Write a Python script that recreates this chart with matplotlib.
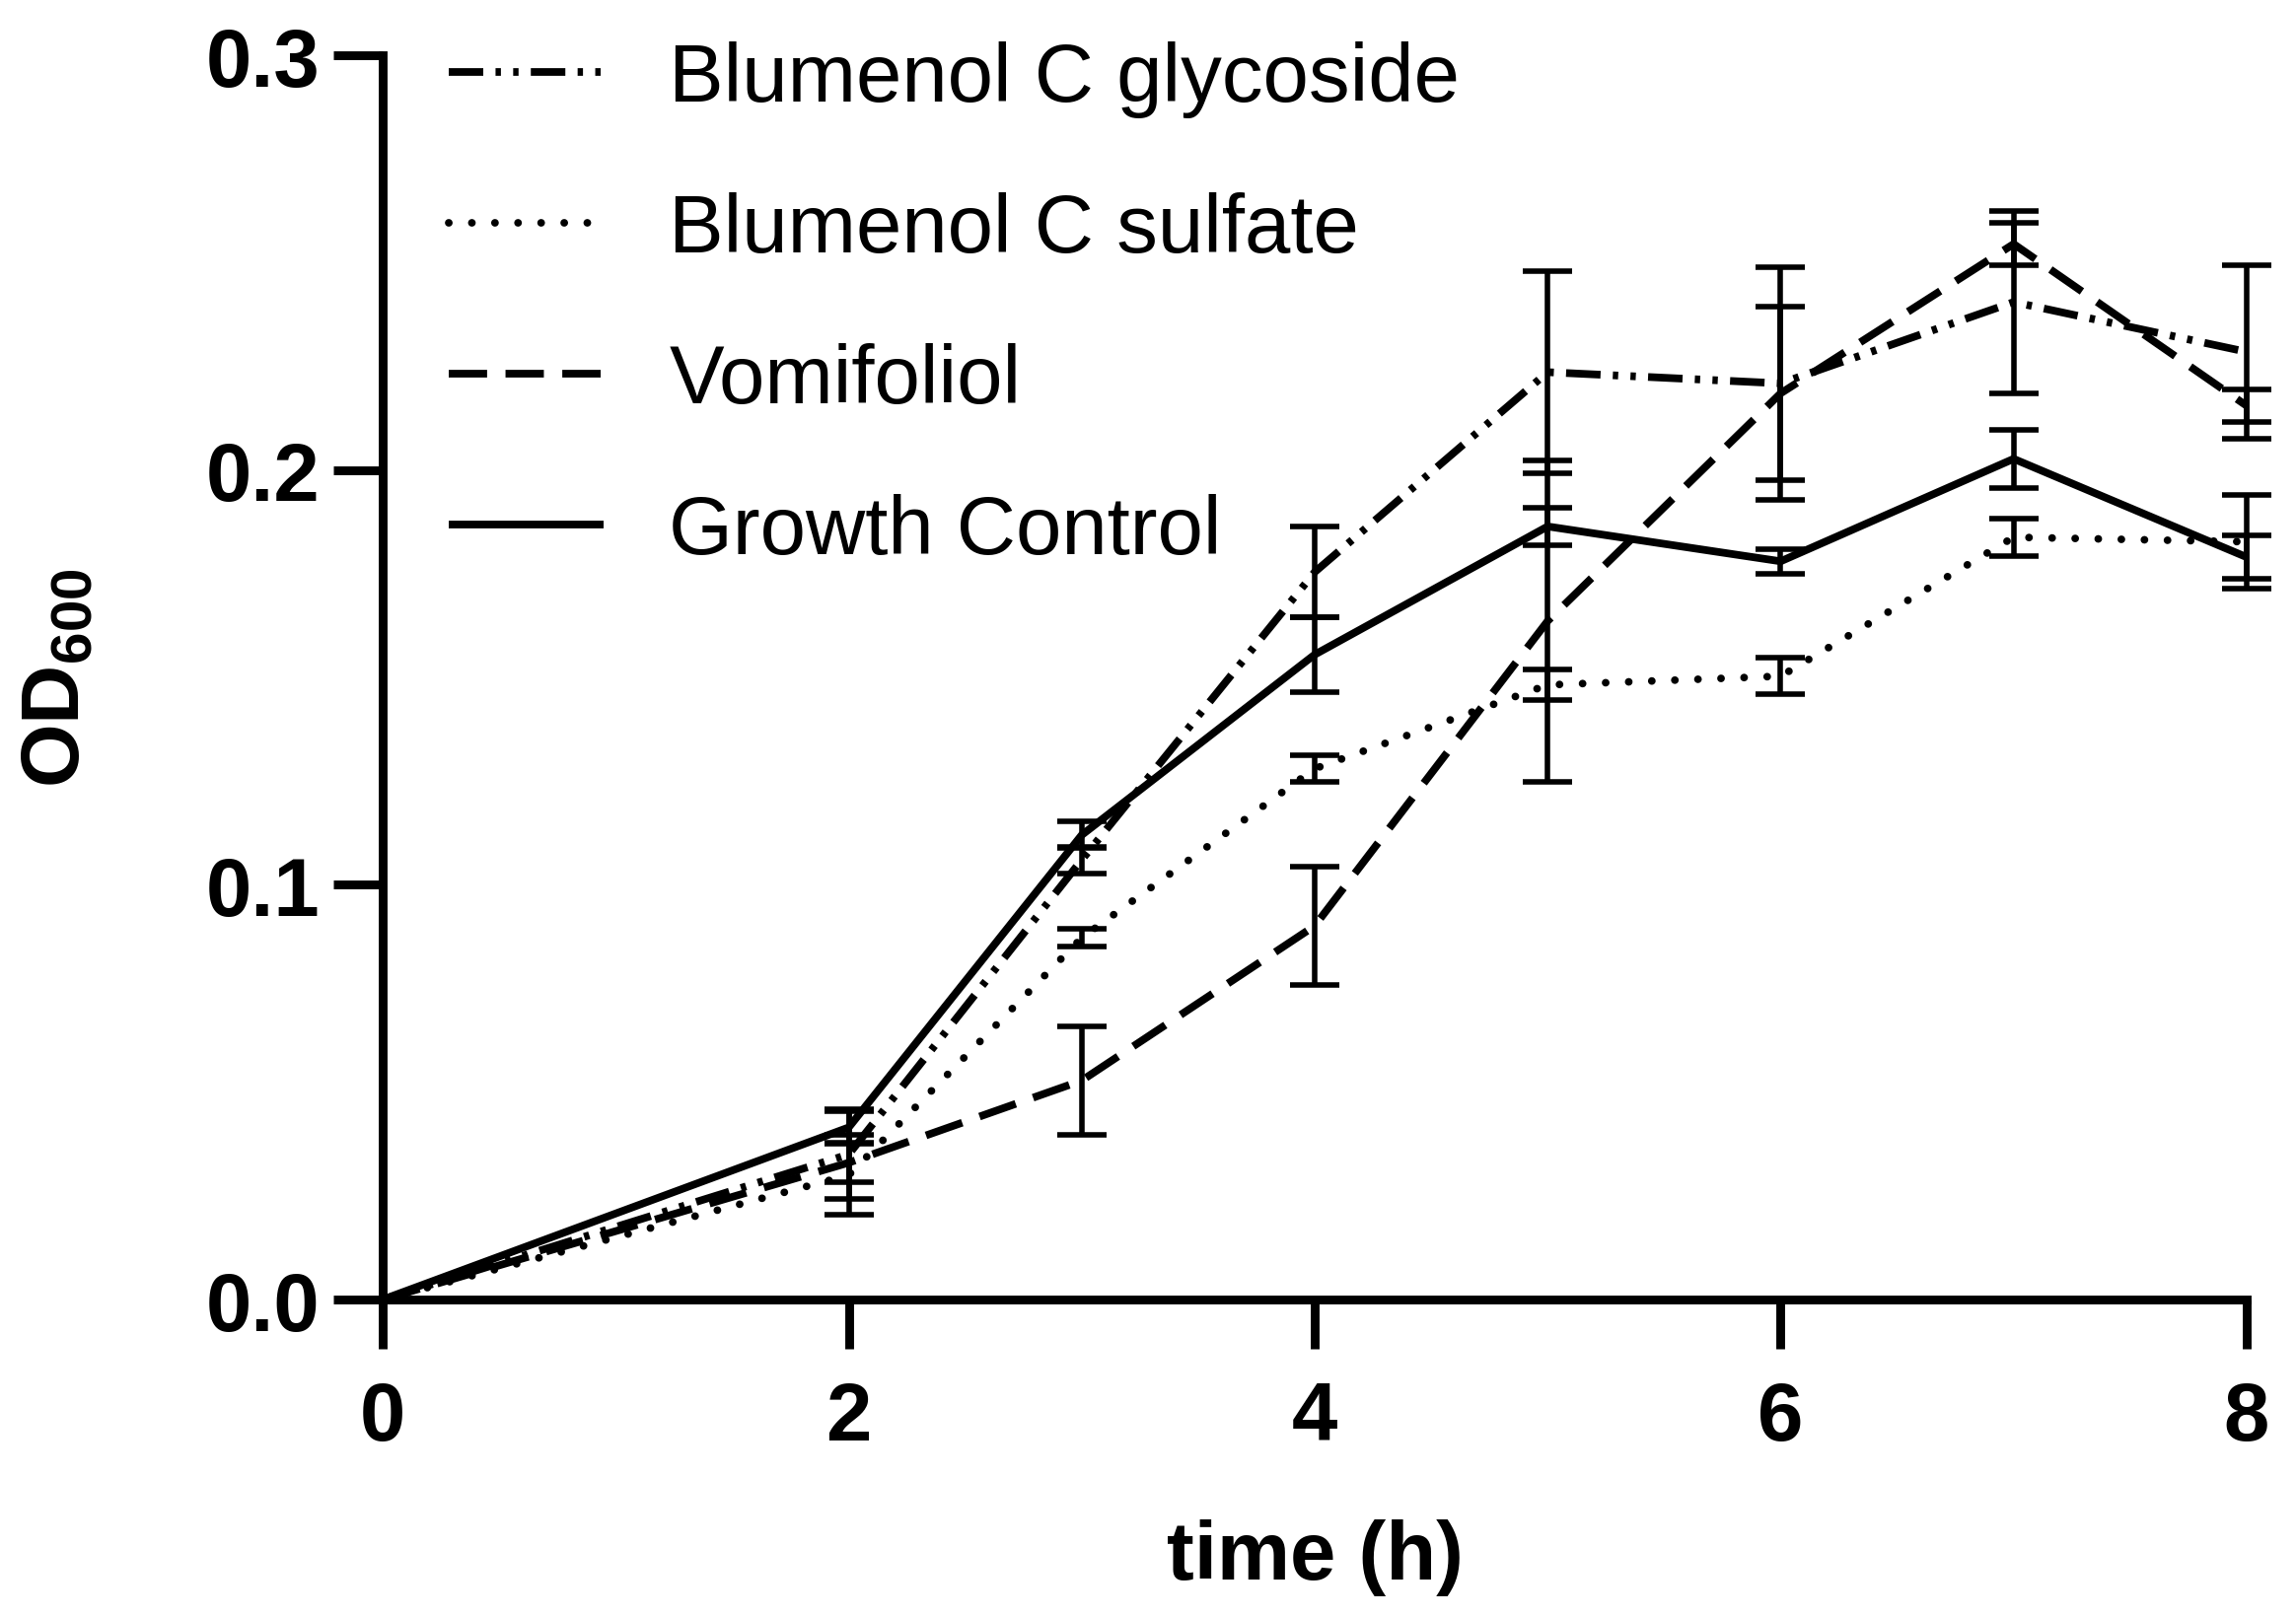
import matplotlib
matplotlib.use("Agg")
import matplotlib.pyplot as plt

plt.rcParams['font.family'] = ['Liberation Sans', 'DejaVu Sans']
plt.rcParams['mathtext.fontset'] = 'custom'
plt.rcParams['mathtext.rm'] = 'Liberation Sans'
plt.rcParams['mathtext.bf'] = 'Liberation Sans:bold'

# ---- data ----
time_h = [0, 2, 3, 4, 5, 6, 7, 8]

glycoside = [0, 0.035, 0.106, 0.1754, 0.2236, 0.2209, 0.2405, 0.2285]
glycoside_err = [0, 0.0108, 0.0032, 0.011, 0.0244, 0.028, 0.022, 0.021]

sulfate = [0, 0.030, 0.0872, 0.128, 0.1482, 0.1503, 0.1838, 0.1827]
sulfate_err = [0, 0.0096, 0.0022, 0.0032, 0.0037, 0.0044, 0.0045, 0.0113]

vomifoliol = [0, 0.033, 0.0528, 0.0901, 0.1636, 0.2185, 0.2545, 0.2155]
vomifoliol_err = [0, 0.0047, 0.013, 0.0143, 0.0388, 0.021, 0.005, 0.004]

growth_control = [0, 0.0415, 0.112, 0.1555, 0.1864, 0.178, 0.2027, 0.179]
growth_control_err = [0, 0.004, 0.0032, 0.009, 0.0046, 0.003, 0.007, 0.0052]

series_labels = ["Blumenol C glycoside", "Blumenol C sulfate", "Vomifoliol", "Growth Control"]
x_ticks = [0, 2, 4, 6, 8]
y_ticks = [0.0, 0.1, 0.2, 0.3]
y_tick_labels = ["0.0", "0.1", "0.2", "0.3"]

# ---- figure ----
fig = plt.figure(figsize=(11.64, 8.2), dpi=200)
ax = fig.add_axes([0.1667, 0.1957, 0.9785 - 0.1667, 0.9652 - 0.1957])

LW = 2.8
styles = [
    dict(dashes=(4.5, 1.6, 0.7, 1.6, 0.7, 1.6), dash_capstyle='butt'),
    dict(dashes=(0.01, 3.0), dash_capstyle='round'),
    dict(dashes=(5, 2.4), dash_capstyle='butt'),
    dict(linestyle='-', solid_capstyle='butt'),
]
data = [(glycoside, glycoside_err), (sulfate, sulfate_err),
        (vomifoliol, vomifoliol_err), (growth_control, growth_control_err)]

for (vals, errs), st, lab in zip(data, styles, series_labels):
    ax.errorbar(time_h, vals, yerr=errs, fmt='none', ecolor='black',
                elinewidth=2.0, capsize=9, capthick=2.0,
                errorevery=(1, 1), clip_on=False, zorder=2)
    ax.plot(time_h, vals, color='black', lw=LW, label=lab,
            clip_on=False, zorder=3, **st)

ax.set_xlim(0, 8)
ax.set_ylim(0, 0.3)
ax.set_xticks(x_ticks)
ax.set_yticks(y_ticks)
ax.set_yticklabels(y_tick_labels)

for s in ['top', 'right']:
    ax.spines[s].set_visible(False)
for s in ['left', 'bottom']:
    ax.spines[s].set_linewidth(3.2)

ax.tick_params(axis='both', direction='out', length=18, width=3.2,
               labelsize=30)
ax.tick_params(axis='x', pad=11)
ax.tick_params(axis='y', pad=5)
for lab in ax.get_xticklabels() + ax.get_yticklabels():
    lab.set_fontweight('bold')

ax.set_xlabel("time (h)", fontsize=30, fontweight='bold')
ax.xaxis.set_label_coords(0.5, -0.176)
ax.set_ylabel(r"$\mathbf{OD_{600}}$", fontsize=30)
ax.yaxis.set_label_coords(-0.154, 0.5)

leg = ax.legend(loc='upper left', bbox_to_anchor=(0.0354, 1.012),
                frameon=False, fontsize=30, borderpad=0, borderaxespad=0,
                handlelength=1.88, handletextpad=0.8, labelspacing=0.90)

fig.savefig("out.png", dpi=200)
